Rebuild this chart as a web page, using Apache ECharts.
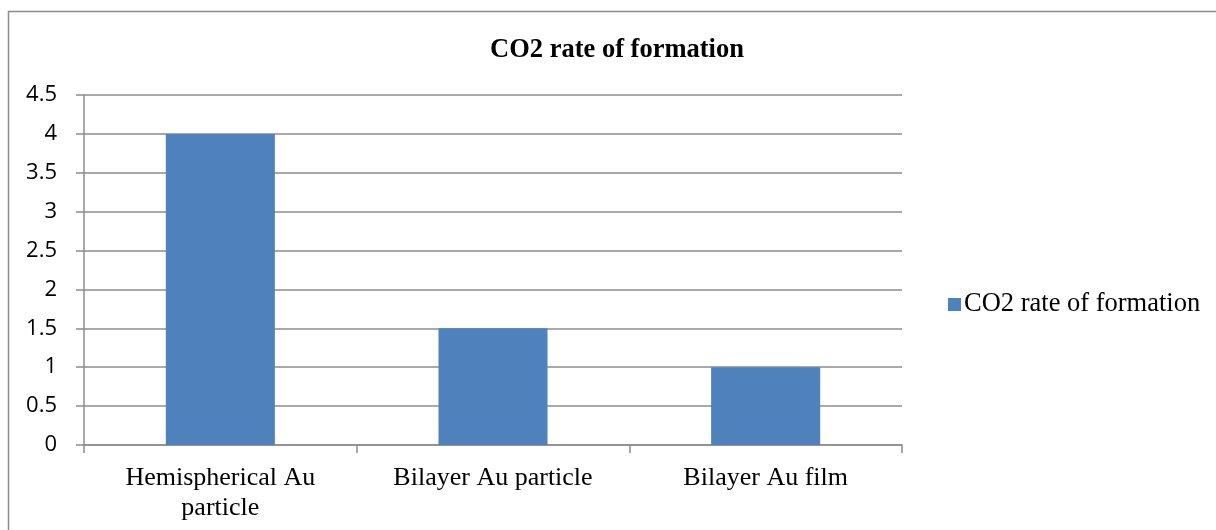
<!DOCTYPE html>
<html>
<head>
<meta charset="utf-8">
<script src="https://cdn.jsdelivr.net/npm/echarts@6/dist/echarts.min.js"></script>
<style>
  html, body { margin: 0; padding: 0; background: #fff; }
  #chart { width: 1216px; height: 530px; }
</style>
</head>
<body>
<div id="chart"></div>
<script>
var categories = ['Hemispherical Au\nparticle', 'Bilayer Au particle', 'Bilayer Au film'];
var rateValues = [4, 1.5, 1];
var seriesName = 'CO2 rate of formation';

var chart = echarts.init(document.getElementById('chart'));
chart.setOption({
    animation: false,
    title: {
        text: 'CO2 rate of formation',
        left: 612,
        textAlign: 'center',
        top: 32,
        textStyle: {
            fontFamily: 'Liberation Serif',
            fontWeight: 'bold',
            fontSize: 26.5,
            color: '#000'
        }
    },
    legend: {
        data: [seriesName],
        left: 943,
        top: 286,
        icon: 'rect',
        itemWidth: 13,
        itemHeight: 13,
        itemGap: 4,
        textStyle: {
            fontFamily: 'Liberation Serif',
            fontSize: 26.5,
            color: '#000',
            padding: [0, 0, 0, -2]
        }
    },
    grid: {
        left: 84,
        top: 95,
        width: 818,
        height: 350,
        containLabel: false
    },
    graphic: [{
        type: 'rect',
        shape: { x: 8.5, y: 11.5, width: 1230, height: 540 },
        style: { fill: 'none', stroke: '#8c8c8c', lineWidth: 1.5 }
    }],
    xAxis: {
        type: 'category',
        data: categories,
        axisLine: { lineStyle: { color: '#8c8c8c', width: 1.5 } },
        axisTick: { show: true, length: 8, lineStyle: { color: '#8c8c8c', width: 1.5 } },
        axisLabel: {
            fontFamily: 'Liberation Serif',
            fontSize: 26,
            color: '#000',
            margin: 18,
            lineHeight: 30
        }
    },
    yAxis: {
        type: 'value',
        min: 0,
        max: 4.5,
        interval: 0.5,
        axisLine: { show: true, lineStyle: { color: '#8c8c8c', width: 1.5 } },
        axisTick: { show: true, length: 8, lineStyle: { color: '#8c8c8c', width: 1.5 } },
        splitLine: { lineStyle: { color: '#8c8c8c', width: 1.5 } },
        axisLabel: {
            fontFamily: 'Open Sans',
            fontSize: 22,
            color: '#000',
            margin: 27
        }
    },
    series: [{
        name: seriesName,
        type: 'bar',
        data: rateValues,
        barWidth: '40%',
        itemStyle: { color: '#4f81bd' }
    }]
});
</script>
</body>
</html>
